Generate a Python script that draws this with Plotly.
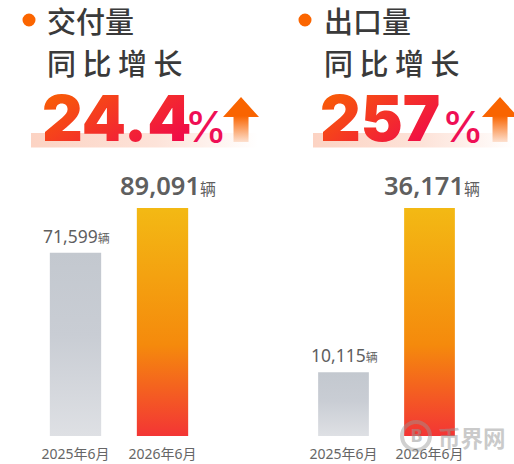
import plotly.graph_objects as go

W, H = 514, 464

months = ['2025年6月', '2026年6月']
delivery = [71599, 89091]
export = [10115, 36171]

def px_x(x):
    return x / W

def px_y(y):
    return 1 - y / H

fig = go.Figure()
fig.add_trace(go.Bar(x=months, y=delivery, xaxis='x', yaxis='y', width=0.59,
                     marker=dict(color=['#c9cdd3', '#f59a0c'], line=dict(width=0))))
fig.add_trace(go.Bar(x=months, y=export, xaxis='x2', yaxis='y2', width=0.59,
                     marker=dict(color=['#c9cdd3', '#f59a0c'], line=dict(width=0))))

tick_font = dict(family='Noto Sans, Noto Sans CJK SC', size=14, color='#666666')
xcommon = dict(type='category', range=[-0.5, 1.5], showgrid=False, showline=False, zeroline=False,
               ticks='', tickfont=tick_font, ticklabelstandoff=8, fixedrange=True)
ycommon = dict(showgrid=False, showline=False, zeroline=False, showticklabels=False, fixedrange=True)
ydomain = [px_y(436), px_y(208)]

annots = []
shapes = []

def text(x, y, s, size, color, family='Noto Sans CJK SC', weight=500, anchor='left'):
    annots.append(dict(x=px_x(x), y=px_y(y), xref='paper', yref='paper', text=s, showarrow=False,
                       xanchor=anchor, yanchor='middle', align='left', borderpad=0,
                       font=dict(family=family, size=size, color=color, weight=weight)))

def value_label(val, xr, yr, cat, big, shift):
    num, unit, w = (25.5, 16, 600) if big else (17.5, 12, 400)
    label = f'<span style="font-size:{num}px;font-weight:{w}">{val:,}</span><span style="font-size:{unit}px">辆</span>'
    annots.append(dict(x=cat, y=val, xref=xr, yref=yr, text=label, showarrow=False,
                       xanchor='center', yanchor='bottom', xshift=shift, yshift=4 if big else 3,
                       font=dict(family='Noto Sans, Noto Sans CJK SC', size=num, color='#5f5f5f')))

value_label(delivery[0], 'x', 'y', months[0], False, 1)
value_label(delivery[1], 'x', 'y', months[1], True, 5.5)
value_label(export[0], 'x2', 'y2', months[0], False, 1)
value_label(export[1], 'x2', 'y2', months[1], True, 2)

# headings
text(46, 20, '交付量', 29, '#3a3a3a')
text(46, 62, '同 比 增 长', 29, '#3a3a3a')
text(323, 20, '出口量', 29, '#3a3a3a')
text(323, 62, '同 比 增 长', 29, '#3a3a3a')

# big numbers
text(41, 118, '24.4', 63, '#f53a35', family='Inter', weight=900)
text(184, 126, '%', 42, '#ef0f55', family='Inter', weight=500)
text(319, 118, '257', 63, '#f53a35', family='Inter', weight=900)
text(441, 126, '%', 42, '#ef0f55', family='Inter', weight=500)

# watermark
text(437, 437, '币界网', 22.5, 'rgba(150,150,150,0.5)', weight=700)
text(416, 436, 'B', 17, 'rgba(150,150,150,0.55)', family='Inter', weight=800, anchor='center')

def rect(x0, y0, x1, y1, fill, **kw):
    shapes.append(dict(type='rect', xref='paper', yref='paper', x0=px_x(x0), x1=px_x(x1),
                       y0=px_y(y0), y1=px_y(y1), fillcolor=fill, line=dict(width=0), layer='below', **kw))

def arrow(cx):
    pts = [(cx, 97), (cx + 18, 117), (cx + 7.5, 117), (cx + 7.5, 142), (cx - 7.5, 142), (cx - 7.5, 117), (cx - 18, 117)]
    path = 'M' + ' L'.join(f'{px_x(a):.4f} {px_y(b):.4f}' for a, b in pts) + ' Z'
    shapes.append(dict(type='path', xref='paper', yref='paper', path=path, fillcolor='#f96400',
                       line=dict(width=0), layer='below'))

rect(31, 133, 258, 147.5, '#fcd9cb')
rect(313, 133, 514, 147.5, '#fcd9cb')
arrow(241)
arrow(500)

# bullets
for cx in [29, 305]:
    shapes.append(dict(type='circle', xref='paper', yref='paper', x0=px_x(cx - 6.5), x1=px_x(cx + 6.5),
                       y0=px_y(20 + 6.5), y1=px_y(20 - 6.5), fillcolor='#fb6500', line=dict(width=0), layer='below'))
# watermark ring
shapes.append(dict(type='circle', xref='paper', yref='paper', x0=px_x(402), x1=px_x(430), y0=px_y(450), y1=px_y(422),
                   fillcolor='rgba(0,0,0,0)', line=dict(width=4, color='rgba(150,150,150,0.45)'), layer='above'))

fig.update_layout(
    width=W, height=H, margin=dict(l=0, r=0, t=0, b=0), showlegend=False,
    paper_bgcolor='white', plot_bgcolor='rgba(0,0,0,0)', bargap=0.41,
    xaxis=dict(domain=[px_x(32), px_x(206)], anchor='y', **xcommon),
    yaxis=dict(domain=ydomain, anchor='x', range=[0, max(delivery)], **ycommon),
    xaxis2=dict(domain=[px_x(300.5), px_x(472.5)], anchor='y2', **xcommon),
    yaxis2=dict(domain=ydomain, anchor='x2', range=[0, max(export)], **ycommon),
    annotations=annots, shapes=shapes,
)

# gradients are not available on bars/text/shapes, so add them to the svg afterwards
post = """
document.body.style.margin = '0';
var gd = document.getElementById('{plot_id}');
var svg = gd.querySelector('.main-svg');
var NS = 'http://www.w3.org/2000/svg';
var defs = svg.querySelector('defs');
function grad(id, x1, y1, x2, y2, stops) {
  var g = document.createElementNS(NS, 'linearGradient');
  g.setAttribute('id', id);
  g.setAttribute('x1', x1); g.setAttribute('y1', y1); g.setAttribute('x2', x2); g.setAttribute('y2', y2);
  stops.forEach(function(s) {
    var e = document.createElementNS(NS, 'stop');
    e.setAttribute('offset', s[0]); e.setAttribute('stop-color', s[1]);
    g.appendChild(e);
  });
  defs.appendChild(g);
}
grad('gGray', 0, 0, 0, 1, [[0, '#c3c8cf'], [0.45, '#c9cdd4'], [1, '#dee0e4']]);
grad('gHot', 0, 0, 0, 1, [[0, '#f3b914'], [0.6, '#f58a0c'], [1, '#f33535']]);
grad('gNum', 0, 0.1, 1, 0.9, [[0, '#f96400'], [1, '#ef0050']]);
grad('gBand', 0, 0, 1, 0, [[0, '#fcd3c3'], [0.55, '#fde3d9'], [1, '#ffffff']]);
grad('gArrow', 0, 0, 0, 1, [[0, '#f96400'], [0.42, '#f96400'], [1, '#fde0cf']]);
gd.querySelectorAll('.barlayer .trace').forEach(function(t) {
  var p = t.querySelectorAll('.point path');
  p[0].style.fill = 'url(#gGray)';
  p[1].style.fill = 'url(#gHot)';
});
gd.querySelectorAll('.annotation-text').forEach(function(t) {
  if (t.textContent === '24.4' || t.textContent === '257') t.style.fill = 'url(#gNum)';
});
var below = gd.querySelectorAll('.layer-below .shapelayer path');
below[0].style.fill = 'url(#gBand)';
below[1].style.fill = 'url(#gBand)';
below[2].style.fill = 'url(#gArrow)';
below[3].style.fill = 'url(#gArrow)';
"""

fig.write_html('out.html', config=dict(displayModeBar=False), post_script=post)
